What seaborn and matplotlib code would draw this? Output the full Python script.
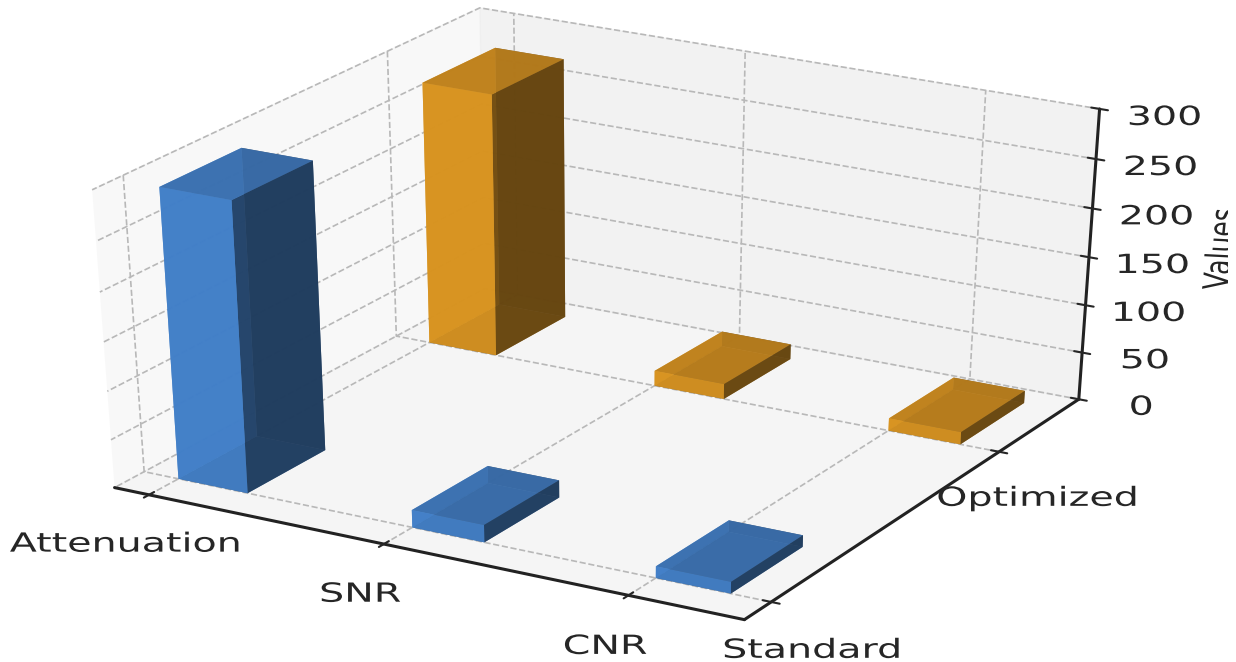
import matplotlib
matplotlib.use("Agg")
import matplotlib.pyplot as plt
import matplotlib.patheffects as pe
from matplotlib.transforms import Affine2D, Bbox
import seaborn as sns

metrics = ["Attenuation", "SNR", "CNR"]
protocols = ["Standard", "Optimized"]
standard = [295, 18, 12]
optimized = [274, 16, 13]
z_ticks = [0, 50, 100, 150, 200, 250, 300]
colors = ["#4a90e2", "#f5a623"]


# the reference is a wide-stretched picture, so glyphs get stretched too
class WideText(pe.AbstractPathEffect):
    def __init__(self, factor, dx=0, dy=0):
        super().__init__()
        self.factor = factor
        self.dx = dx
        self.dy = dy

    def draw_path(self, renderer, gc, tpath, affine, rgbFace=None):
        cx = (tpath.get_extents(affine).x0 + tpath.get_extents(affine).x1) / 2
        wide = affine + Affine2D().translate(-cx, 0).scale(self.factor, 1).translate(cx + self.dx, self.dy)
        renderer.draw_path(gc, tpath, wide, rgbFace)


sns.set_theme(style="whitegrid")
plt.rcParams["font.family"] = "DejaVu Sans"
plt.rcParams["axes.edgecolor"] = "#222222"
plt.rcParams["axes.linewidth"] = 2.2
plt.rcParams["grid.color"] = "#b8b8b8"
plt.rcParams["grid.linestyle"] = "--"
plt.rcParams["grid.linewidth"] = 1.2

fig = plt.figure(figsize=(12.36, 6.62), dpi=100)
ax = fig.add_axes([0.0268, -0.007, 0.902, 1.082], projection="3d")
ax.apply_aspect = lambda position=None: None  # let the 3d box fill the wide axes
ax.set_box_aspect((4, 4, 2.93))

for j, vals in enumerate([standard, optimized]):
    for i, v in enumerate(vals):
        ax.bar3d(i, j, 0, 0.3, 0.3, v, color=colors[j], alpha=0.87,
                 shade=True, edgecolor="none", linewidth=0)

ax.set_xlim(-0.15, 2.46)
ax.set_ylim(-0.11, 1.38)
ax.set_zlim(0, 300)
ax.set_xticks([0, 1, 2])
ax.set_xticklabels(metrics)
ax.set_yticks([0, 1])
ax.set_yticklabels(protocols)
ax.set_zticks(z_ticks)
ax.tick_params(axis="x", labelsize=19, pad=15)
ax.tick_params(axis="y", labelsize=19, pad=15)
ax.tick_params(axis="z", labelsize=19, pad=14)
ax.set_zlabel("Values", fontsize=18, labelpad=26)

for axis in [ax.xaxis, ax.yaxis, ax.zaxis]:
    axis.pane.set_edgecolor("#eeeeee")
    axis.line.set_color("#222222")
    axis._axinfo["tick"]["inward_factor"] = 0.16
    axis._axinfo["tick"]["outward_factor"] = 0.16
    axis._axinfo["tick"]["linewidth"] = {True: 1.5, False: 0.8}
    axis._axinfo["tick"]["color"] = "#222222"

for lab in ax.xaxis.get_ticklabels():
    lab.set_path_effects([WideText(1.5, dx=2, dy=-3)])
for lab in ax.yaxis.get_ticklabels():
    lab.set_path_effects([WideText(1.5, dx=-3, dy=-7)])
for lab in ax.zaxis.get_ticklabels():
    lab.set_path_effects([WideText(1.5, dx=3, dy=-1)])

ax.zaxis.label.set_path_effects([WideText(1.42, dx=3, dy=-3)])
ax.zaxis.label.set_clip_on(True)
ax.zaxis.label.set_clip_box(Bbox([[0, 0], [1228, 662]]))

fig.savefig("out.png", dpi=100)
